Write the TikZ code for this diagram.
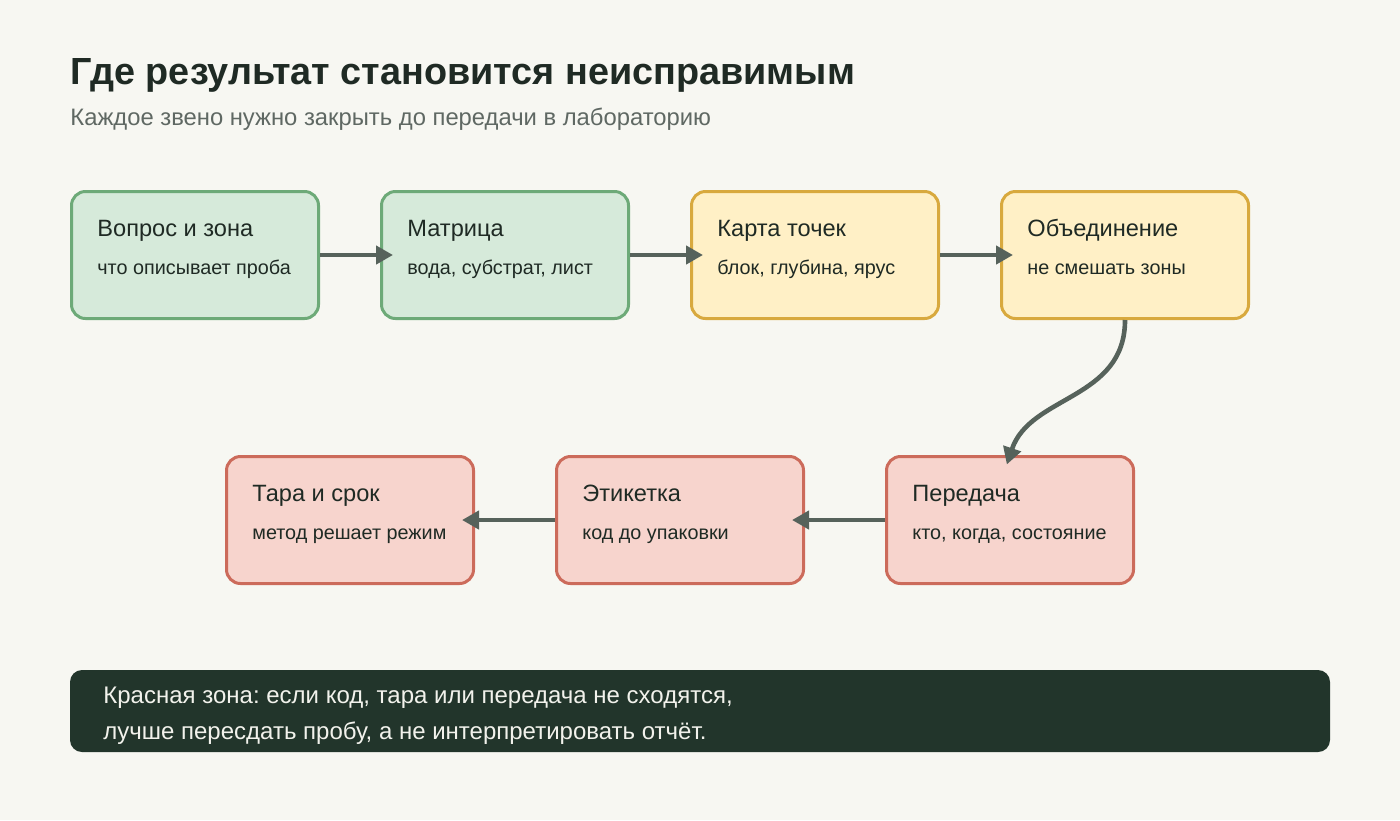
\documentclass[tikz,border=0pt]{standalone}
\usepackage{fontspec}
\setmainfont{Liberation Sans}
\usetikzlibrary{arrows.meta}
\frenchspacing

\definecolor{paper}{HTML}{F7F7F2}
\definecolor{ink}{HTML}{1F2A24}
\definecolor{muted}{HTML}{5F6863}
\definecolor{arrowgray}{HTML}{56625B}
\definecolor{sageFill}{HTML}{D6EADA}
\definecolor{sageLine}{HTML}{6DAA78}
\definecolor{amberFill}{HTML}{FFF0C6}
\definecolor{amberLine}{HTML}{D8A93E}
\definecolor{coralFill}{HTML}{F7D4CD}
\definecolor{coralLine}{HTML}{CC6B5B}
\definecolor{panelbg}{HTML}{22352B}
\definecolor{paneltext}{HTML}{F2F2EC}

\begin{document}
\begin{tikzpicture}[x=0.5pt,y=-0.5pt,>={Triangle[length=8.5pt,width=9pt]},
    box/.style={draw,rounded corners=7pt,line width=1.5pt,minimum width=123.5pt,
                minimum height=63.5pt,inner sep=0pt},
    sage/.style={fill=sageFill,draw=sageLine},
    amber/.style={fill=amberFill,draw=amberLine},
    coral/.style={fill=coralFill,draw=coralLine},
    head/.style={anchor=base west,inner sep=0pt,text=ink,font=\fontsize{11.8}{14}\selectfont},
    note/.style={anchor=base west,inner sep=0pt,text=ink,font=\fontsize{9.9}{12}\selectfont},
    flow/.style={->,draw=arrowgray,line width=2.3pt,shorten >=-6.5pt}]
        \fill[paper] (0,0) rectangle (1400,820);
        \useasboundingbox (0,0) rectangle (1400,820);

        % heading
        \node[anchor=base west,inner sep=0pt,text=ink,font=\fontsize{18.9}{22}\selectfont\bfseries]
            (title) at (70,84) {Где результат становится неисправимым};
        \node[anchor=base west,inner sep=0pt,text=muted,font=\fontsize{11.9}{14}\selectfont]
            (subtitle) at (70,125) {Каждое звено нужно закрыть до передачи в лабораторию};

        % chain of steps
        \foreach \id/\cx/\cy/\tone/\name/\what in {
            q/195/255/sage/Вопрос и зона/что описывает проба,
            m/505/255/sage/Матрица/{вода, субстрат, лист},
            k/815/255/amber/Карта точек/{блок, глубина, ярус},
            o/1125/255/amber/Объединение/не смешать зоны,
            p/1010/520/coral/Передача/{кто, когда, состояние},
            e/680/520/coral/Этикетка/код до упаковки,
            t/350/520/coral/Тара и срок/метод решает режим}
        {
            \node[box,\tone] (\id) at (\cx,\cy) {};
            \node[head] (\id-name) at (\cx-98,\cy-19) {\name};
            \node[note] (\id-what) at (\cx-98,\cy+19) {\what};
        }

        \foreach \a/\b in {q/m,m/k,k/o}
            \draw[flow] (\a.east) -- (\b.west);
        \foreach \a/\b in {p/e,e/t}
            \draw[flow] (\a.west) -- (\b.east);
        \draw[flow,shorten >=-5pt] (o.south) .. controls (1125,400) and (1030,395) .. (p.north);

        % warning panel
        \node[fill=panelbg,rounded corners=6pt,minimum width=630pt,minimum height=41pt,inner sep=0pt]
            (panel) at (700,711) {};
        \node[anchor=base west,inner sep=0pt,text=paneltext,font=\fontsize{12}{14}\selectfont]
            (line1) at (103,703) {Красная зона: если код, тара или передача не сходятся,};
        \node[anchor=base west,inner sep=0pt,text=paneltext,font=\fontsize{12}{14}\selectfont]
            (line2) at (103,739) {лучше пересдать пробу, а не интерпретировать отчёт.};
\end{tikzpicture}
\end{document}
